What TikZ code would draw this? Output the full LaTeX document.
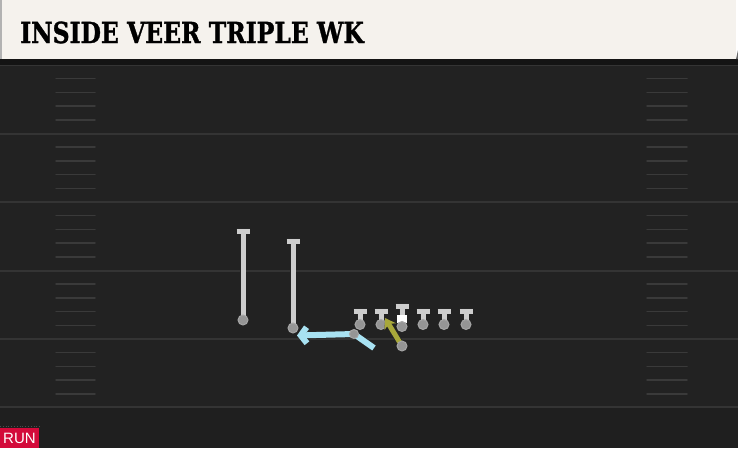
\documentclass[tikz,border=0pt]{standalone}
\usepackage{fontspec}
\usepackage{tikz}
\usetikzlibrary{calc}
\usetikzlibrary{arrows.meta}
\newfontfamily\titlefont[BoldFeatures={FakeBold=1.2}]{DejaVu Serif}
\newfontfamily\tagfont{Liberation Sans}
\definecolor{paper}{HTML}{F5F2ED}
\definecolor{turf}{HTML}{222222}
\definecolor{yardgray}{HTML}{343434}
\definecolor{hashgray}{HTML}{3A3A3A}
\definecolor{stemgray}{HTML}{CDCDCD}
\definecolor{dotgray}{HTML}{959595}
\definecolor{cyanpath}{HTML}{A8E2F2}
\definecolor{olivepath}{HTML}{A8A83A}
\definecolor{runred}{HTML}{D30A3A}

\begin{document}
\begin{tikzpicture}[x=1pt,y=-1pt,
  yard/.style={draw=yardgray,line width=2pt},
  hash/.style={draw=hashgray,line width=1.5pt,line cap=round},
  stem/.style={draw=stemgray,line width=5pt,preaction={draw=black!85,line width=6.5pt}},
  bar/.style={draw=stemgray,line width=5pt,preaction={draw=black!85,line width=6.5pt}},
  dot/.style={fill=dotgray,draw=black!35,line width=1pt},
  motion/.style={draw=cyanpath,line width=6pt,-{Straight Barb[length=6pt,width=16pt]},preaction={draw=black!85,line width=7.5pt}},
  read/.style={draw=olivepath,line width=5pt,-{Stealth[length=10pt,width=13pt,inset=3pt]},preaction={draw=black!85,line width=6.5pt}}]
\useasboundingbox (0,0) rectangle (738,448);

% field
\fill[turf] (0,59) rectangle (738,448);
\fill[black!88] (0,407) rectangle (738,448);
\foreach \y in {65,133.5,202,270.5,339,407}
  \draw[yard] (0,\y) -- (738,\y);
\foreach \y in {65,133.5,202,270.5,339} {
  \foreach \k in {1,...,4} {
    \draw[hash] (56,\y+\k*13.7) -- (95,\y+\k*13.7);
    \draw[hash] (647,\y+\k*13.7) -- (687,\y+\k*13.7);
  }
}

% header
\fill[black!92] (0,58) rectangle (738,65);
\fill[paper] (2,0) rectangle (736,59);
\fill[black!30] (0,0) rectangle (2,59);
\fill[black!60] (736,59) -- (738,50) -- (738,59) -- cycle;
\node[anchor=west,inner sep=0] (title) at (20,32.5)
  {\scalebox{0.81}[1]{\titlefont\bfseries\fontsize{29}{30}\selectfont INSIDE VEER TRIPLE WK}};

% players
\coordinate (wr1) at (243,320);
\coordinate (wr1end) at (243,231);
\coordinate (wr2) at (293,328);
\coordinate (wr2end) at (293,241);
\coordinate (ctr) at (402,326.5);
\coordinate (ctrend) at (402,306);
\coordinate (qb) at (402,346);
\coordinate (rb) at (354,334);
\coordinate (rbstart) at (374,348);

\draw[stem] (wr1) -- (wr1end);
\draw[bar] ($(wr1end)+(-6.5,0)$) -- ($(wr1end)+(6.5,0)$);
\draw[stem] (wr2) -- (wr2end);
\draw[bar] ($(wr2end)+(-6.5,0)$) -- ($(wr2end)+(6.5,0)$);

\foreach \x/\nm in {360/lt,381/lg,423/rg,444/rt,466/te} {
  \coordinate (\nm) at (\x,324.5);
  \coordinate (\nm end) at (\x,311);
  \draw[stem] (\nm) -- (\nm end);
  \draw[bar] ($(\nm end)+(-6.5,0)$) -- ($(\nm end)+(6.5,0)$);
  \filldraw[dot] (\nm) circle (5);
}
\draw[stem] (ctr) -- (ctrend);
\draw[bar] ($(ctrend)+(-6.5,0)$) -- ($(ctrend)+(6.5,0)$);
\fill[white] (397,314.5) rectangle (407,323);
\filldraw[dot] (ctr) circle (5);

\filldraw[dot] (wr1) circle (5);
\filldraw[dot] (wr2) circle (5);

% backfield action
\draw[motion] (rbstart) -- (rb) -- (297,335.5);
\filldraw[dot] (rb) circle (4.5);
\draw[read] ($(qb)+(-2.5,-4)$) -- (385,318);
\filldraw[dot] (qb) circle (5);

% tag
\draw[black!70,dotted,line width=.8pt] (0,426) -- (40,426);
\fill[runred] (0,427.5) rectangle (39,448);
\node[anchor=west,inner sep=0,text=white] (tag) at (3,438.5)
  {\tagfont\fontsize{15}{15}\selectfont RUN};
\end{tikzpicture}
\end{document}
